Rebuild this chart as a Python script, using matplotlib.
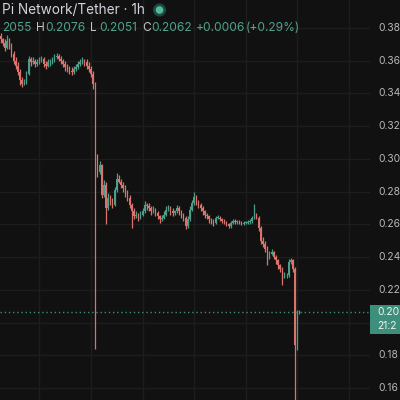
import matplotlib
matplotlib.use("Agg")
import matplotlib.pyplot as plt
import matplotlib.transforms as mtransforms
from matplotlib.patches import Rectangle

# ---------------- data (hourly candles) ----------------
opens = [
    0.375, 0.373, 0.371, 0.368, 0.372, 0.369, 0.364, 0.360, 0.357, 0.353,
    0.348, 0.346, 0.347, 0.352, 0.361, 0.359, 0.360, 0.358, 0.359, 0.360,
    0.361, 0.358, 0.357, 0.359, 0.359, 0.360, 0.362, 0.363, 0.361, 0.360,
    0.358, 0.356, 0.355, 0.354, 0.353, 0.355, 0.356, 0.358, 0.359, 0.360,
    0.359, 0.357, 0.355, 0.352, 0.346, 0.301, 0.292, 0.296, 0.278, 0.284,
    0.270, 0.276, 0.274, 0.272, 0.281, 0.288, 0.286, 0.284, 0.282, 0.279,
    0.276, 0.272, 0.268, 0.265, 0.266, 0.264, 0.266, 0.268, 0.272, 0.271,
    0.270, 0.268, 0.269, 0.267, 0.265, 0.263, 0.264, 0.266, 0.269, 0.270,
    0.268, 0.267, 0.268, 0.270, 0.268, 0.266, 0.264, 0.259, 0.263, 0.269,
    0.273, 0.277, 0.274, 0.272, 0.270, 0.268, 0.266, 0.265, 0.263, 0.262,
    0.261, 0.264, 0.264, 0.263, 0.262, 0.261, 0.260, 0.259, 0.261, 0.262,
    0.2615, 0.2615, 0.261, 0.2605, 0.261, 0.261, 0.2615, 0.262, 0.264, 0.266,
    0.264, 0.258, 0.250, 0.248, 0.245, 0.240, 0.242, 0.243, 0.240, 0.238,
    0.235, 0.233, 0.228, 0.229, 0.229, 0.237, 0.238, 0.233, 0.186, 0.2055,
]
closes = [
    0.373, 0.371, 0.368, 0.372, 0.369, 0.364, 0.360, 0.357, 0.353, 0.348,
    0.346, 0.347, 0.352, 0.361, 0.359, 0.360, 0.358, 0.359, 0.360, 0.361,
    0.358, 0.357, 0.359, 0.359, 0.360, 0.362, 0.363, 0.361, 0.360, 0.358,
    0.356, 0.355, 0.354, 0.353, 0.355, 0.356, 0.358, 0.359, 0.360, 0.359,
    0.357, 0.355, 0.352, 0.346, 0.301, 0.292, 0.296, 0.278, 0.284, 0.270,
    0.276, 0.274, 0.272, 0.281, 0.288, 0.286, 0.284, 0.282, 0.279, 0.276,
    0.272, 0.268, 0.265, 0.266, 0.264, 0.266, 0.268, 0.272, 0.271, 0.270,
    0.268, 0.269, 0.267, 0.265, 0.263, 0.264, 0.266, 0.269, 0.270, 0.268,
    0.267, 0.268, 0.270, 0.268, 0.266, 0.264, 0.259, 0.263, 0.269, 0.273,
    0.277, 0.274, 0.272, 0.270, 0.268, 0.266, 0.265, 0.263, 0.262, 0.261,
    0.264, 0.264, 0.263, 0.262, 0.261, 0.260, 0.259, 0.261, 0.262, 0.2615,
    0.2615, 0.261, 0.2605, 0.261, 0.261, 0.2615, 0.262, 0.264, 0.266, 0.264,
    0.258, 0.250, 0.248, 0.245, 0.240, 0.242, 0.243, 0.240, 0.238, 0.235,
    0.233, 0.228, 0.229, 0.229, 0.237, 0.238, 0.233, 0.186, 0.2055, 0.2062,
]
highs = [
    0.377, 0.374, 0.373, 0.376, 0.374, 0.371, 0.366, 0.362, 0.359, 0.355,
    0.350, 0.349, 0.354, 0.363, 0.362, 0.362, 0.361, 0.361, 0.362, 0.363,
    0.362, 0.360, 0.361, 0.361, 0.362, 0.364, 0.365, 0.364, 0.363, 0.361,
    0.360, 0.358, 0.357, 0.356, 0.357, 0.358, 0.360, 0.361, 0.362, 0.361,
    0.361, 0.359, 0.357, 0.354, 0.347, 0.303, 0.299, 0.297, 0.287, 0.286,
    0.279, 0.278, 0.276, 0.283, 0.2915, 0.290, 0.288, 0.286, 0.284, 0.281,
    0.278, 0.273, 0.270, 0.268, 0.267, 0.268, 0.270, 0.274, 0.273, 0.273,
    0.271, 0.271, 0.270, 0.268, 0.266, 0.266, 0.268, 0.271, 0.272, 0.271,
    0.270, 0.269, 0.272, 0.271, 0.269, 0.267, 0.265, 0.265, 0.271, 0.275,
    0.2795, 0.278, 0.275, 0.273, 0.271, 0.269, 0.267, 0.266, 0.264, 0.263,
    0.265, 0.2655, 0.265, 0.264, 0.263, 0.262, 0.261, 0.262, 0.263, 0.263,
    0.2625, 0.2625, 0.262, 0.262, 0.262, 0.2625, 0.263, 0.265, 0.2725, 0.267,
    0.265, 0.259, 0.252, 0.250, 0.247, 0.244, 0.245, 0.244, 0.241, 0.239,
    0.236, 0.234, 0.231, 0.230, 0.239, 0.2395, 0.239, 0.234, 0.2075, 0.2076,
]
lows = [
    0.371, 0.369, 0.366, 0.367, 0.367, 0.362, 0.358, 0.355, 0.351, 0.345,
    0.344, 0.345, 0.346, 0.351, 0.357, 0.358, 0.356, 0.357, 0.358, 0.359,
    0.356, 0.355, 0.356, 0.357, 0.358, 0.359, 0.361, 0.360, 0.358, 0.356,
    0.354, 0.353, 0.352, 0.351, 0.352, 0.354, 0.355, 0.357, 0.358, 0.357,
    0.355, 0.353, 0.350, 0.343, 0.184, 0.289, 0.291, 0.276, 0.277, 0.2605,
    0.269, 0.272, 0.270, 0.271, 0.280, 0.285, 0.282, 0.280, 0.277, 0.274,
    0.270, 0.258, 0.263, 0.264, 0.262, 0.263, 0.265, 0.267, 0.269, 0.268,
    0.266, 0.267, 0.265, 0.263, 0.261, 0.262, 0.263, 0.265, 0.268, 0.266,
    0.265, 0.266, 0.267, 0.266, 0.264, 0.262, 0.257, 0.258, 0.262, 0.268,
    0.272, 0.272, 0.270, 0.268, 0.266, 0.264, 0.263, 0.261, 0.260, 0.259,
    0.260, 0.263, 0.262, 0.261, 0.260, 0.259, 0.258, 0.258, 0.260, 0.2605,
    0.2605, 0.260, 0.2595, 0.2595, 0.260, 0.260, 0.2605, 0.261, 0.263, 0.263,
    0.256, 0.248, 0.246, 0.243, 0.235, 0.239, 0.241, 0.239, 0.236, 0.233,
    0.231, 0.223, 0.227, 0.227, 0.228, 0.236, 0.231, 0.150, 0.183, 0.2051,
]
price_ticks = [0.16, 0.18, 0.20, 0.22, 0.24, 0.26, 0.28, 0.30, 0.32, 0.34, 0.36, 0.38]
day_marks = [18, 42, 66, 90, 114, 138, 162]
title_text = "Pi Network/Tether · 1h"
ohlc_line = [("2055", "g"), ("H", "w"), ("0.2076", "g"), ("L", "w"), ("0.2051", "g"),
             ("C", "w"), ("0.2062", "g"), ("+0.0006", "g"), ("(+0.29%)", "g")]
last_price = 0.2062
last_price_label = "0.20"   # visible part of the price tag (cut at image edge)
countdown_label = "21:2"    # visible part of the countdown (cut at image edge)

# ---------------- style ----------------
BG = "#111111"
GRID = "#1d1d1d"
UP = "#4c9e89"
DOWN = "#d9736b"
TXT = "#d1d4dc"
AXTXT = "#b8b8b8"
TEAL = "#3d8f7b"
plt.rcParams["font.family"] = ["Inter", "DejaVu Sans"]

W, H = 400, 400
fig = plt.figure(figsize=(4, 4), dpi=100, facecolor=BG)
ax = fig.add_axes([0, 0, 370 / W, 1])
ax.set_facecolor(BG)
for s in ax.spines.values():
    s.set_visible(False)
ax.set_xticks([])
ax.set_yticks([])

px_per_bar = 2.15
ax.set_xlim(-0.3, -0.3 + 370 / px_per_bar)
ax.set_ylim(0.15267, 0.39711)

for p in price_ticks:
    ax.axhline(p, color=GRID, lw=1, zorder=0)
for d in day_marks:
    ax.axvline(d, color=GRID, lw=1, zorder=0)

xs = list(range(len(closes)))
cols = [UP if c >= o else DOWN for o, c in zip(opens, closes)]
ax.vlines(xs, lows, highs, colors=cols, lw=0.9, zorder=2)
bottoms = [min(o, c) for o, c in zip(opens, closes)]
heights = [max(abs(c - o), 0.0003) for o, c in zip(opens, closes)]
ax.bar(xs, heights, bottom=bottoms, width=0.65, color=cols, linewidth=0, zorder=3)

# last price dotted line
ax.axhline(last_price, color=TEAL, lw=1, ls=(0, (1, 2)), zorder=4)

# price axis labels
tr = mtransforms.blended_transform_factory(fig.transFigure, ax.transData)
for p in price_ticks:
    if abs(p - 0.20) < 1e-9:
        continue
    fig.text(378 / W, p, f"{p:.2f}", transform=tr, color=AXTXT, fontsize=7.4,
             va="center", ha="left")

# last price box
fig.patches.append(Rectangle((370 / W, (H - 334) / H), 40 / W, 29 / H,
                             transform=fig.transFigure, facecolor=TEAL,
                             edgecolor="none", zorder=5))
fig.text(377 / W, (H - 312) / H, last_price_label, color="#eef5f3", fontsize=7.4,
         va="center", ha="left", zorder=6)
fig.text(377 / W, (H - 326) / H, countdown_label, color="#eef5f3", fontsize=7.4,
         va="center", ha="left", zorder=6)

# header
fig.text(2 / W, (H - 10) / H, title_text, color=TXT, fontsize=9.8, va="center", ha="left")
fig.patches.append(plt.Circle((159.5 / W, (H - 10) / H), 6.5 / W, transform=fig.transFigure,
                              facecolor="#1d4a40", edgecolor="none"))
fig.patches.append(plt.Circle((159.5 / W, (H - 10) / H), 3.8 / W, transform=fig.transFigure,
                              facecolor="#55b89f", edgecolor="none"))

xpos = [2, 36, 45, 90, 99, 142, 151, 196, 246]
for (t, c), xp in zip(ohlc_line, xpos):
    fig.text(xp / W, (H - 28) / H, t, color=("#4fa38d" if c == "g" else "#c4c4c4"),
             fontsize=8.6, va="center", ha="left")

fig.savefig("out.png", dpi=100, facecolor=BG)
